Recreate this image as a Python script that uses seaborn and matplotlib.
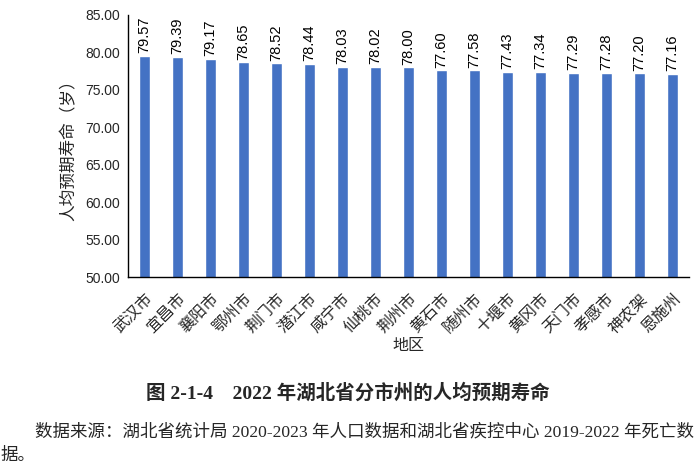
import matplotlib
matplotlib.use("Agg")
import matplotlib.pyplot as plt
import seaborn as sns
import pandas as pd
from matplotlib.ticker import FormatStrFormatter, FixedLocator

regions = ["武汉市", "宜昌市", "襄阳市", "鄂州市", "荆门市", "潜江市", "咸宁市", "仙桃市", "荆州市",
           "黄石市", "随州市", "十堰市", "黄冈市", "天门市", "孝感市", "神农架", "恩施州"]
values = [79.57, 79.39, 79.17, 78.65, 78.52, 78.44, 78.03, 78.02, 78.00,
          77.60, 77.58, 77.43, 77.34, 77.29, 77.28, 77.20, 77.16]
y_label = "人均预期寿命（岁）"
x_label = "地区"
caption = "图 2-1-4　2022 年湖北省分市州的人均预期寿命"
source1 = "数据来源：湖北省统计局 2020-2023 年人口数据和湖北省疾控中心 2019-2022 年死亡数"
source2 = "据。"

sns.set_style("white")
plt.rcParams['font.family'] = ['Liberation Sans', 'Noto Sans CJK SC', 'DejaVu Sans']
serif = ['Liberation Serif', 'Noto Sans CJK SC']

df = pd.DataFrame({"region": regions, "value": values})

fig = plt.figure(figsize=(6.96, 4.65), dpi=100)
ax = fig.add_axes([0.184, 0.404, 0.806, 0.564])
sns.barplot(data=df, x="region", y="value", color="#4472C4", width=0.33,
            saturation=1, ax=ax)

ax.set_ylim(50, 85)
ax.set_yticks([50, 55, 60, 65, 70, 75, 80, 85])
ax.yaxis.set_major_formatter(FormatStrFormatter("%.2f"))
ax.set_xlim(-0.5, len(regions) - 0.5)

for c in ax.containers:
    ax.bar_label(c, labels=[f"{v:.2f}" for v in values], rotation=90,
                 padding=2, fontsize=10.5, color="black")

ax.set_xticks(range(len(regions)))
ax.set_xticklabels(regions, rotation=45, ha="right", rotation_mode="anchor",
                   fontsize=11.5)
ax.tick_params(axis="x", length=0, pad=10)
ax.xaxis.set_minor_locator(FixedLocator([i + 0.5 for i in range(-1, len(regions))]))
ax.tick_params(axis="x", which="minor", direction="in", length=5, width=0.8, color="black")
ax.tick_params(axis="y", direction="in", length=5, width=0.8, color="black",
               labelsize=10, pad=6)

for s in ["top", "right"]:
    ax.spines[s].set_visible(False)
for s in ["left", "bottom"]:
    ax.spines[s].set_color("black")
    ax.spines[s].set_linewidth(1.0)

ax.set_ylabel(y_label, fontsize=12)
ax.set_xlabel(x_label, fontsize=11.5, labelpad=2)
ax.yaxis.set_label_coords(-0.092, 0.5)

fig.text(0.5, 1 - 393 / 465, caption, ha="center", va="center", fontsize=14,
         fontweight="bold", family=serif)
fig.text(35 / 696, 1 - 432 / 465, source1, ha="left", va="center", fontsize=12.6,
         family=serif)
fig.text(0.0, 1 - 456 / 465, source2, ha="left", va="center", fontsize=12.6,
         family=serif)

fig.savefig("out.png", dpi=100)
